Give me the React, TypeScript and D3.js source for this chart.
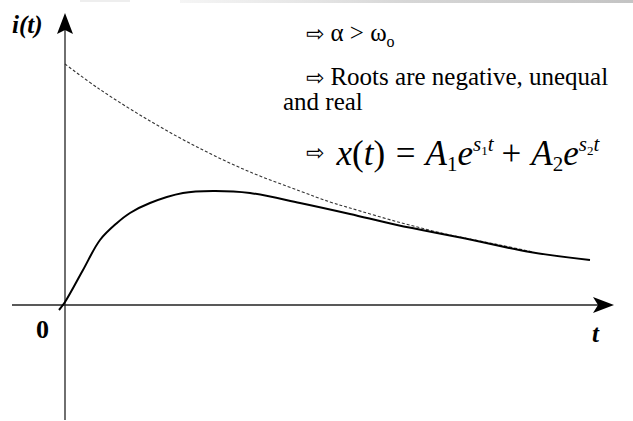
import React from "react";
import * as d3 from "d3";

// Time values (arbitrary units) and current values
const envelopeT = [0, 0.7, 1.7, 2.7, 3.7, 4.7, 5.3, 5.7, 6.7, 7.7, 8.7, 9.36];
const envelopeI = [4.82, 4.31, 3.68, 3.13, 2.66, 2.28, 2.06, 1.94, 1.65, 1.4, 1.2, 1.06];

const responseT = [-0.12, 0, 0.36, 0.7, 1.04, 1.3, 1.7, 2.36, 2.96, 3.7, 4.7, 5.7, 6.64, 7.96, 9.3, 10.5];
const responseI = [-0.1, 0.06, 0.7, 1.3, 1.64, 1.84, 2.04, 2.24, 2.28, 2.24, 2.04, 1.82, 1.6, 1.34, 1.06, 0.9];

const axisTRange = [-1.06, 10.98];
const axisIRange = [-2.3, 5.84];

const W = 633;
const H = 421;

export default function App() {
  const x = d3.scaleLinear().domain([0, 10]).range([65, 565]);
  const y = d3.scaleLinear().domain([0, 5]).range([305, 55]);

  const env = envelopeT.map((t, k) => [t, envelopeI[k]] as [number, number]);
  const resp = responseT.map((t, k) => [t, responseI[k]] as [number, number]);

  const line = d3
    .line<[number, number]>()
    .x((d) => x(d[0]))
    .y((d) => y(d[1]))
    .curve(d3.curveCatmullRom.alpha(0.5));

  const x0 = x(0);
  const y0 = y(0);
  const xEnd = x(axisTRange[1]);
  const xStart = x(axisTRange[0]);
  const yTop = y(axisIRange[1]);
  const yBot = y(axisIRange[0]);

  const serif: React.CSSProperties = {
    fontFamily: '"Times New Roman", Times, Tinos, "Liberation Serif", "DejaVu Serif", "Noto Serif", serif',
  };
  const arrowFont: React.CSSProperties = { fontFamily: '"DejaVu Sans", sans-serif' };

  return (
    <svg
      width={W}
      height={H}
      style={{ position: "absolute", left: 0, top: 0, background: "#fff" }}
    >
      <defs>
        <linearGradient id="topband" x1="0" x2="1" y1="0" y2="0">
          <stop offset="0" stopColor="#ccc" stopOpacity="0.2" />
          <stop offset="0.5" stopColor="#bbb" stopOpacity="0.6" />
          <stop offset="1" stopColor="#aaa" stopOpacity="0.7" />
        </linearGradient>
      </defs>
      <rect x={180} y={0} width={453} height={3} fill="url(#topband)" />
      <rect x={80} y={0} width={50} height={2} fill="#ddd" opacity={0.5} />

      {/* axes */}
      <line x1={xStart} y1={y0} x2={xEnd - 12} y2={y0} stroke="#222" strokeWidth={1.3} />
      <path
        d={`M${xEnd},${y0} L${xEnd - 21},${y0 - 8} L${xEnd - 16},${y0} L${xEnd - 21},${y0 + 8} Z`}
        fill="#000"
      />
      <line x1={x0} y1={yBot} x2={x0} y2={yTop + 12} stroke="#222" strokeWidth={1.3} />
      <path
        d={`M${x0},${yTop} L${x0 - 8},${yTop + 21} L${x0},${yTop + 17} L${x0 + 8},${yTop + 21} Z`}
        fill="#000"
      />

      {/* envelope (dashed) */}
      <path
        d={line(env) || ""}
        fill="none"
        stroke="#333"
        strokeWidth={1.1}
        strokeDasharray="3,2"
      />
      {/* response */}
      <path d={line(resp) || ""} fill="none" stroke="#000" strokeWidth={2} />

      {/* axis labels */}
      <text x={12} y={33} style={serif} fontStyle="italic" fontWeight="bold" fontSize={25}>
        i(t)
      </text>
      <text x={36} y={338} style={serif} fontWeight="bold" fontSize={26}>
        0
      </text>
      <text x={592} y={342} style={serif} fontStyle="italic" fontWeight="bold" fontSize={25}>
        t
      </text>

      {/* annotations */}
      <text x={306} y={41} style={serif} fontSize={25}>
        <tspan style={arrowFont} fontSize={22}>⇨</tspan>
        <tspan dx={6}>α &gt; ω</tspan>
        <tspan fontSize={16} dy={6}>o</tspan>
      </text>
      <text x={306} y={85} style={serif} fontSize={25}>
        <tspan style={arrowFont} fontSize={22}>⇨</tspan>
        <tspan dx={6}>Roots are negative, unequal</tspan>
      </text>
      <text x={283} y={110} style={serif} fontSize={25}>
        and real
      </text>
      <text x={306} y={165} style={serif} fontSize={35}>
        <tspan style={arrowFont} fontSize={22} dy={-5}>⇨</tspan>
        <tspan dx={12} dy={5} fontStyle="italic">x</tspan>
        <tspan>(</tspan>
        <tspan fontStyle="italic">t</tspan>
        <tspan>) </tspan>
        <tspan dx={2}>=</tspan>
        <tspan dx={10} fontStyle="italic">A</tspan>
        <tspan fontSize={21} dy={6}>1</tspan>
        <tspan fontStyle="italic" dy={-6}>e</tspan>
        <tspan fontStyle="italic" fontSize={21} dy={-14}>s</tspan>
        <tspan fontSize={13} dy={4}>1</tspan>
        <tspan fontStyle="italic" fontSize={21} dy={-4}>t</tspan>
        <tspan dy={14} dx={8}>+</tspan>
        <tspan dx={10} fontStyle="italic">A</tspan>
        <tspan fontSize={21} dy={6}>2</tspan>
        <tspan fontStyle="italic" dy={-6}>e</tspan>
        <tspan fontStyle="italic" fontSize={21} dy={-14}>s</tspan>
        <tspan fontSize={13} dy={4}>2</tspan>
        <tspan fontStyle="italic" fontSize={21} dy={-4}>t</tspan>
      </text>
    </svg>
  );
}
